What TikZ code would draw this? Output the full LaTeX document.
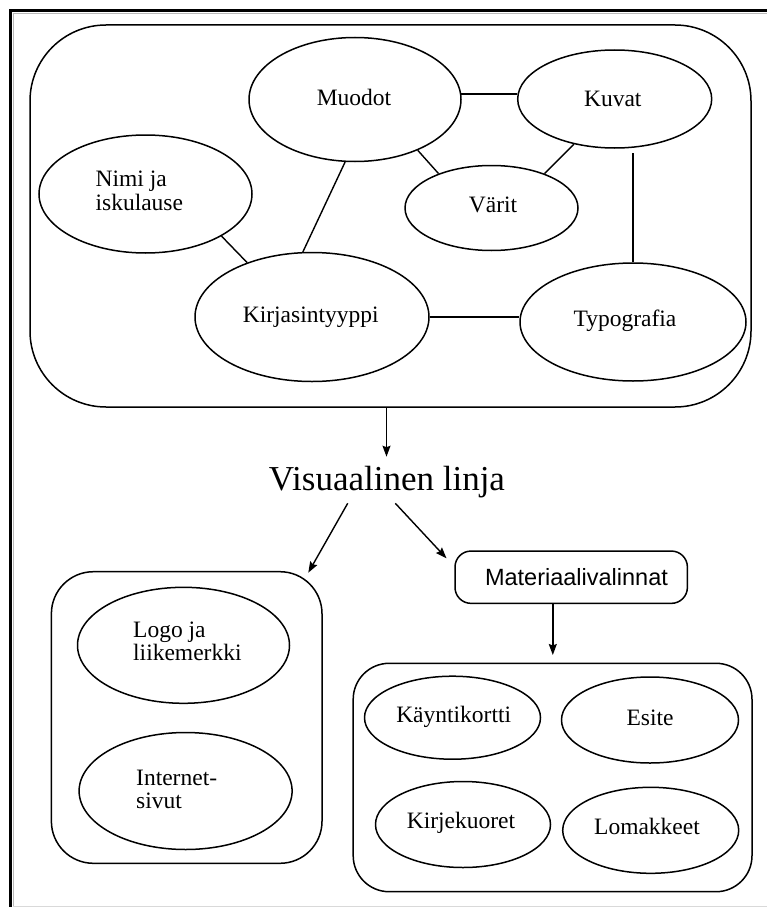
\documentclass[tikz,border=0pt]{standalone}
\usepackage{fontspec}
\setmainfont{Liberation Serif}
\newfontfamily\sansfnt{Liberation Sans}
\usetikzlibrary{shapes.geometric,arrows.meta,calc}

\begin{document}
\begin{tikzpicture}[x=1pt,y=-1pt,
  oval/.style={draw, ellipse, line width=1.5pt, inner sep=0pt},
  box/.style={draw, rectangle, line width=1.5pt, inner sep=0pt},
  lbl/.style={inner sep=0pt, anchor=base, font=\fontsize{23.5}{24}\selectfont},
  lblw/.style={lbl, anchor=base west},
  link/.style={line width=1.4pt},
  arr/.style={line width=1.4pt, -{Stealth[length=11pt,width=8pt,inset=1.5pt]}}]

\useasboundingbox (0,0) rectangle (767,907);

% page frame
\draw[gray!55, line width=0.8pt] (13.5,907) -- (13.5,13.5) -- (767,13.5);
\draw[gray!30, line width=1pt] (13,906) -- (767,906);
\draw[line width=2.5pt] (10.5,907) -- (10.5,10.5) -- (767,10.5);

% containers
\node[box, rounded corners=76pt, minimum width=721pt, minimum height=382pt] (Top) at (390.5,216) {};
\node[box, rounded corners=42pt, minimum width=270.6pt, minimum height=291.6pt] (LeftBox) at (186.7,717.5) {};
\node[box, rounded corners=36pt, minimum width=398.8pt, minimum height=228.4pt] (RightBox) at (552.6,777.5) {};
\node[box, rounded corners=16pt, minimum width=232.4pt, minimum height=52.3pt] (Mat) at (571.2,577.2) {};

% ellipses of the upper group
\node[oval, minimum width=212pt, minimum height=124pt] (Muodot) at (355,99.5) {};
\node[oval, minimum width=194pt, minimum height=98pt] (Kuvat) at (614.7,99) {};
\node[oval, minimum width=173pt, minimum height=85pt] (Varit) at (491.5,208) {};
\node[oval, minimum width=213pt, minimum height=118pt] (Nimi) at (145.5,194) {};
\node[oval, minimum width=234pt, minimum height=129pt] (Kirja) at (312,317) {};
\node[oval, minimum width=226pt, minimum height=118pt] (Typo) at (633,322) {};

% ellipses of the lower groups
\node[oval, minimum width=212pt, minimum height=116pt] (Logo) at (183.5,645.3) {};
\node[oval, minimum width=213pt, minimum height=117pt] (Internet) at (185.6,791) {};
\node[oval, minimum width=176pt, minimum height=83pt] (Kaynti) at (452.5,717.7) {};
\node[oval, minimum width=177pt, minimum height=86pt] (Esite) at (650,720) {};
\node[oval, minimum width=175pt, minimum height=86pt] (Kirjek) at (463,824.5) {};
\node[oval, minimum width=176pt, minimum height=86pt] (Lomak) at (650.7,830.3) {};

% labels
\node[lbl] (tMuodot) at (354,105) {Muodot};
\node[lbl] (tKuvat) at (612.8,106) {Kuvat};
\node[lbl] (tVarit) at (493,212.3) {Värit};
\node[lblw] (tNimiA) at (95.4,186.7) {Nimi ja};
\node[lblw] (tNimiB) at (95.4,210.7) {iskulause};
\node[lbl] (tKirja) at (310.7,322.7) {Kirjasintyyppi};
\node[lbl] (tTypo) at (625,326.7) {Typografia};
\node[lbl, font=\fontsize{35}{36}\selectfont] (VL) at (387,490) {Visuaalinen linja};
\node[lbl, font=\sansfnt\fontsize{23.5}{24}\selectfont] (tMat) at (576.5,585) {Materiaalivalinnat};
\node[lblw] (tLogoA) at (133,637.3) {Logo ja};
\node[lblw] (tLogoB) at (133,660) {liikemerkki};
\node[lblw] (tIntA) at (136,785) {Internet-};
\node[lblw] (tIntB) at (136,808.3) {sivut};
\node[lbl] (tKaynti) at (453.7,722.7) {Käyntikortti};
\node[lbl] (tEsite) at (650,725) {Esite};
\node[lbl] (tKirjek) at (461,828.3) {Kirjekuoret};
\node[lbl] (tLomak) at (647,834.3) {Lomakkeet};

% links inside the upper group
\draw[link] (Muodot.3) -- (Muodot.3 -| Kuvat.west);
\draw[link] (Muodot.-39) -- (Varit.147);
\draw[link] (Kuvat.228) -- (Varit.33);
\draw[link, shorten >=4pt] (Typo.north) -- (Typo.north |- Kuvat.south);
\draw[link] (Nimi.-29) -- (Kirja.140);
\draw[link] (Muodot.-99) -- (Kirja.98);
\draw[link] (Kirja.east) -- (Kirja.east -| Typo.west);

% arrows
\coordinate (vtip) at (386.5,456.7);
\coordinate (vlL) at (347.7,503.3);
\coordinate (vlR) at (395.3,503.3);
\coordinate (ltip) at (308.3,572.7);
\coordinate (rtip) at (446.5,558.3);
\coordinate (mtip) at (552.8,655);
\draw[arr] (Top.south -| vtip) -- (vtip);
\draw[arr] (vlL) -- (ltip);
\draw[arr] (vlR) -- (rtip);
\draw[arr] (Mat.south -| mtip) -- (mtip);

\end{tikzpicture}
\end{document}
